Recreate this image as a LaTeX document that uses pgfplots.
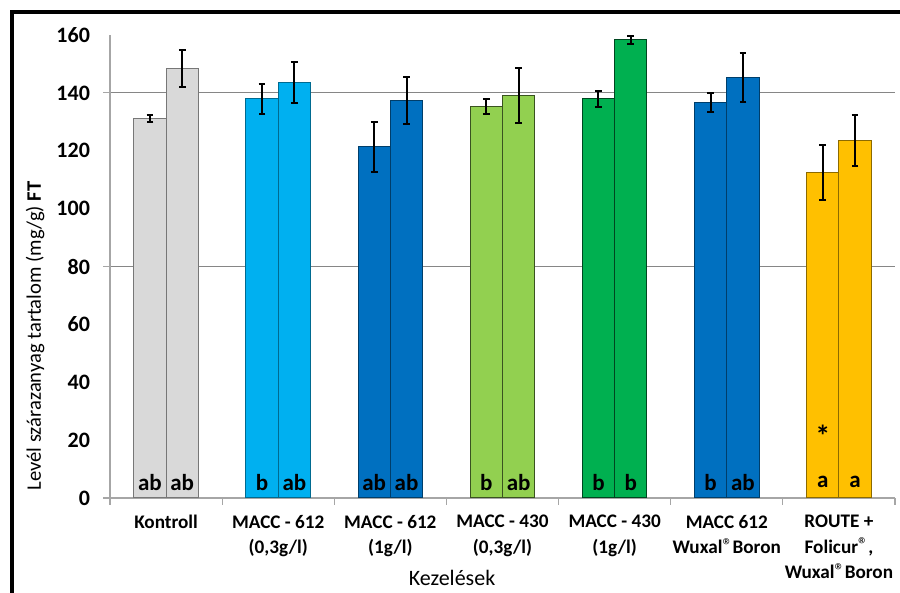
\documentclass[border=0pt]{standalone}
\usepackage{pgfplots}
\pgfplotsset{compat=1.18}
\usepackage{fontspec}
\setmainfont{Carlito}
\definecolor{cgray}{HTML}{D9D9D9}
\definecolor{clblue}{HTML}{00B0F0}
\definecolor{cblue}{HTML}{0070C0}
\definecolor{clgreen}{HTML}{92D050}
\definecolor{cgreen}{HTML}{00B050}
\definecolor{cgold}{HTML}{FFC000}
\definecolor{axisgray}{HTML}{A6A6A6}
\definecolor{gridgray}{HTML}{868686}
\tikzset{lett/.style={font=\fontsize{11.5}{12}\selectfont\bfseries}}
\newcommand{\reg}{\raisebox{0.8pt}{\fontsize{10}{10}\selectfont\mdseries ®}}
\begin{document}
\begin{tikzpicture}
\begin{axis}[
  at={(0,0)}, anchor=south west,
  scale only axis, width=392.5pt, height=231.5pt,
  xmin=-0.5, xmax=6.5, ymin=0, ymax=160,
  axis lines*=left,
  axis line style={draw=axisgray, line width=0.6pt},
  ytick={0,20,...,160},
  minor ytick={0,80,140},
  yminorgrids, minor grid style={draw=gridgray, line width=0.6pt},
  xtick={0,...,6},
  xticklabels={Kontroll, {MACC - 612\\(0,3g/l)}, {MACC - 612\\(1g/l)}, {MACC - 430\\(0,3g/l)}, {MACC - 430\\(1g/l)}, {MACC 612\\Wuxal\reg Boron}, {ROUTE +\\Folicur\reg,\\Wuxal\reg Boron}},
  minor xtick={-0.5,0.5,...,6.5},
  major tick length=0pt, minor tick length=3.5pt, tick align=outside,
  tick style={draw=axisgray, line width=0.6pt},
  /pgf/number format/assume math mode=true,
  yticklabel style={font=\fontsize{11}{12}\selectfont\bfseries, xshift=-6.5pt},
  xticklabel style={font=\fontsize{9.6}{12.8}\selectfont\bfseries, align=center, yshift=-5pt},
  ybar, bar width=0.288, bar shift=0pt,
  error bars/y dir=both, error bars/y explicit,
  error bars/error mark=|,
  error bars/error bar style={black, line width=1pt},
  error bars/error mark options={black, line width=1pt, mark size=1.7pt},
  clip=false,
]
\addplot[fill=cgray, draw=cgray!55!black, line width=0.5pt] coordinates {(-0.144,131.2) +- (0,1.2) (0.144,148.5) +- (0,6.4)};
\addplot[fill=clblue, draw=clblue!60!black, line width=0.5pt] coordinates {(0.856,137.9) +- (0,5.2) (1.144,143.6) +- (0,7.2)};
\addplot[fill=cblue, draw=cblue!55!black, line width=0.5pt] coordinates {(1.856,121.3) +- (0,8.5) (2.144,137.4) +- (0,8.0)};
\addplot[fill=clgreen, draw=clgreen!40!black, line width=0.5pt] coordinates {(2.856,135.3) +- (0,2.5) (3.144,139.1) +- (0,9.5)};
\addplot[fill=cgreen, draw=cgreen!40!black, line width=0.5pt] coordinates {(3.856,137.9) +- (0,2.9) (4.144,158.3) +- (0,1.5)};
\addplot[fill=cblue, draw=cblue!55!black, line width=0.5pt] coordinates {(4.856,136.7) +- (0,3.2) (5.144,145.3) +- (0,8.5)};
\addplot[fill=cgold, draw=cgold!55!black, line width=0.5pt] coordinates {(5.856,112.5) +- (0,9.5) (6.144,123.6) +- (0,8.8)};
\node[lett] at (axis cs:-0.144,5.5) {ab};
\node[lett] at (axis cs:0.144,5.5) {ab};
\node[lett] at (axis cs:0.856,5.5) {b};
\node[lett] at (axis cs:1.144,5.5) {ab};
\node[lett] at (axis cs:1.856,5.5) {ab};
\node[lett] at (axis cs:2.144,5.5) {ab};
\node[lett] at (axis cs:2.856,5.5) {b};
\node[lett] at (axis cs:3.144,5.5) {ab};
\node[lett] at (axis cs:3.856,5.5) {b};
\node[lett] at (axis cs:4.144,5.5) {b};
\node[lett] at (axis cs:4.856,5.5) {b};
\node[lett] at (axis cs:5.144,5.5) {ab};
\node[lett] at (axis cs:5.856,5.5) {a};
\node[lett] at (axis cs:6.144,5.5) {a};
\node[font=\fontsize{15}{15}\selectfont\bfseries] at (axis cs:5.856,21.5) {*};
\end{axis}
\node[rotate=90, font=\fontsize{10.3}{12}\selectfont] at (-37.5pt,81pt) {Levél szárazanyag tartalom (mg/g) \textbf{FT}};
\node[font=\fontsize{11}{12}\selectfont] at (171pt,-40pt) {Kezelések};
\draw[line width=1.6pt, black] (-49pt,-48pt) -- (-49pt,243pt) -- (396pt,243pt);
\pgfresetboundingbox
\path[use as bounding box] (-55pt,-47.5pt) rectangle (395pt,249pt);
\end{tikzpicture}
\end{document}
